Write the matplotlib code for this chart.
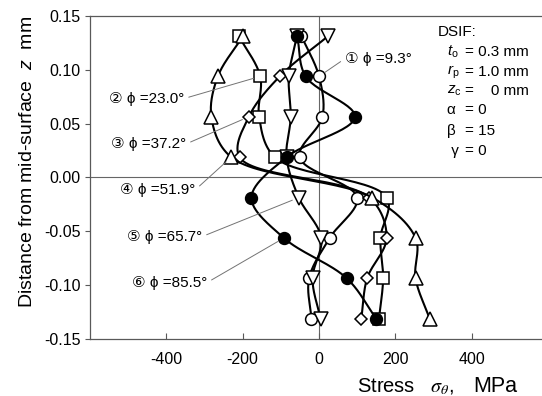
import numpy as np
import matplotlib
matplotlib.use("Agg")
import matplotlib.pyplot as plt

plt.rcParams['font.family'] = ['Liberation Sans', 'DejaVu Sans']
plt.rcParams['axes.unicode_minus'] = False
plt.rcParams['mathtext.fontset'] = 'custom'
plt.rcParams['mathtext.rm'] = 'Liberation Sans'
plt.rcParams['mathtext.it'] = 'Liberation Sans:italic'

# through-thickness sampling points (mm), top to bottom
z = [0.13125, 0.09375, 0.05625, 0.01875, -0.01875, -0.05625, -0.09375, -0.13125]

# hoop stress sigma_theta (MPa) at each z for the six angles
s_93 = [-46, 0, 9, -51, 100, 28, -26, -20]
s_230 = [-210, -154, -157, -116, 178, 161, 168, 157]
s_372 = [24, -103, -184, -208, 132, 177, 126, 111]
s_519 = [-199, -265, -282, -230, 140, 253, 253, 290]
s_657 = [-58, -79, -74, -85, -53, 6, -17, 4]
s_855 = [-57, -35, 94, -85, -177, -92, 73, 150]

labels = ['\u2460 \u03d5 =9.3\u00b0', '\u2461 \u03d5 =23.0\u00b0', '\u2462 \u03d5 =37.2\u00b0',
          '\u2463 \u03d5 =51.9\u00b0', '\u2464 \u03d5 =65.7\u00b0', '\u2465 \u03d5 =85.5\u00b0']
# marker per point (the 37.2 deg curve starts on a down triangle)
marks = ['oooooooo', 'ssssssss', 'vDDDDDDD', '^^^^^^^^', 'vvvvvvvv', 'oooooooo']
filled = [False, False, False, False, False, True]
series = [s_93, s_230, s_372, s_519, s_657, s_855]

# label text anchor (stress, z) and the point each leader points to
label_xy = [(67, 0.110), (-352, 0.0727), (-347, 0.0306), (-323, -0.0118), (-305, -0.0554), (-292, -0.098)]
label_pt = [1, 1, 2, 3, 4, 5]

fig = plt.figure(figsize=(5.42, 3.96), dpi=100)
ax = fig.add_axes([90 / 542, 57 / 396, 458 / 542, 323.2 / 396])
ax.set_xlim(-600, 600)
ax.set_ylim(-0.15, 0.15)


def catmull_rom(px, py, n=30):
    # centripetal Catmull-Rom through the points, done in display space
    p = np.column_stack([px, py])
    p = np.vstack([2 * p[0] - p[1], p, 2 * p[-1] - p[-2]])
    out = []
    for i in range(1, len(p) - 2):
        p0, p1, p2, p3 = p[i - 1], p[i], p[i + 1], p[i + 2]
        t0 = 0.0
        t1 = t0 + np.linalg.norm(p1 - p0) ** 0.5
        t2 = t1 + np.linalg.norm(p2 - p1) ** 0.5
        t3 = t2 + np.linalg.norm(p3 - p2) ** 0.5
        t = np.linspace(t1, t2, n)[:, None]
        a1 = (t1 - t) / (t1 - t0) * p0 + (t - t0) / (t1 - t0) * p1
        a2 = (t2 - t) / (t2 - t1) * p1 + (t - t1) / (t2 - t1) * p2
        a3 = (t3 - t) / (t3 - t2) * p2 + (t - t2) / (t3 - t2) * p3
        b1 = (t2 - t) / (t2 - t0) * a1 + (t - t0) / (t2 - t0) * a2
        b2 = (t3 - t) / (t3 - t1) * a2 + (t - t1) / (t3 - t1) * a3
        c = (t2 - t) / (t2 - t1) * b1 + (t - t1) / (t2 - t1) * b2
        out.append(c if i == 1 else c[1:])
    return np.vstack(out)


# reference lines through zero
ax.axhline(0, color='0.4', lw=0.8, zorder=1)
ax.axvline(0, color='0.4', lw=0.8, zorder=1)

msize = {'o': 8.5, 's': 8.3, 'D': 6.0, '^': 9.5, 'v': 9.5}
for k, s in enumerate(series):
    disp = ax.transData.transform(np.column_stack([s, z]))
    curve = ax.transData.inverted().transform(catmull_rom(disp[:, 0], disp[:, 1]))
    ax.plot(curve[:, 0], curve[:, 1], color='black', lw=1.5, zorder=2 + 2 * k)
    face = 'black' if filled[k] else 'white'
    for m in set(marks[k]):
        idx = [i for i, c in enumerate(marks[k]) if c == m]
        ax.plot([s[i] for i in idx], [z[i] for i in idx], ls='none', marker=m,
                ms=msize[m], mfc=face, mec='black', mew=1.1, zorder=3 + 2 * k)

for k, s in enumerate(series):
    i = label_pt[k]
    left = k == 0
    ax.annotate(labels[k], xy=(s[i], z[i]), xytext=label_xy[k], textcoords='data',
                ha='left' if left else 'right', va='center', fontsize=11,
                arrowprops=dict(arrowstyle='-', color='0.45', lw=0.7, shrinkA=1, shrinkB=5,
                                relpos=(0, 0.5) if left else (1, 0.55)),
                zorder=20)

# DSIF parameters
ax.text(311, 0.135, 'DSIF:', fontsize=11, va='center')
params = [('$t_{\\mathrm{o}}$', '= 0.3 mm'), ('$r_{\\mathrm{p}}$', '= 1.0 mm'),
          ('$z_{\\mathrm{c}}$', '=    0 mm'),
          ('\u03b1', '= 0'), ('\u03b2', '= 15'), (' \u03b3', '= 0')]
rows = [0.1164, 0.0978, 0.0801, 0.0625, 0.043, 0.0245]
for (sym, val), y in zip(params, rows):
    ax.text(335, y, sym, fontsize=11, va='center')
    ax.text(382, y, val, fontsize=11, va='center')

ax.set_xticks([-400, -200, 0, 200, 400])
ax.set_yticks([0.15, 0.10, 0.05, 0.00, -0.05, -0.10, -0.15])
ax.set_yticklabels(['0.15', '0.10', '0.05', '0.00', '-0.05', '-0.10', '-0.15'])
ax.tick_params(axis='x', direction='in', length=4.5, width=0.8, color='0.35', labelsize=11.5, pad=9)
ax.tick_params(axis='y', direction='out', length=3.5, width=0.8, color='0.35', labelsize=11.5, pad=3)
for sp in ax.spines.values():
    sp.set_color('0.35')
    sp.set_linewidth(0.9)

fig.text(28 / 542, 1 - 162 / 396, 'Distance from mid-surface  $z$  mm', rotation=90,
         ha='center', va='center', fontsize=14)
fig.text(357 / 542, 1 - 387 / 396, 'Stress   $\\sigma_\\theta$,', ha='left', va='center',
         fontsize=14.5, math_fontfamily='stix')
fig.text(517 / 542, 1 - 387 / 396, 'MPa', ha='right', va='center', fontsize=15.5)

fig.savefig('out.png', dpi=100)
